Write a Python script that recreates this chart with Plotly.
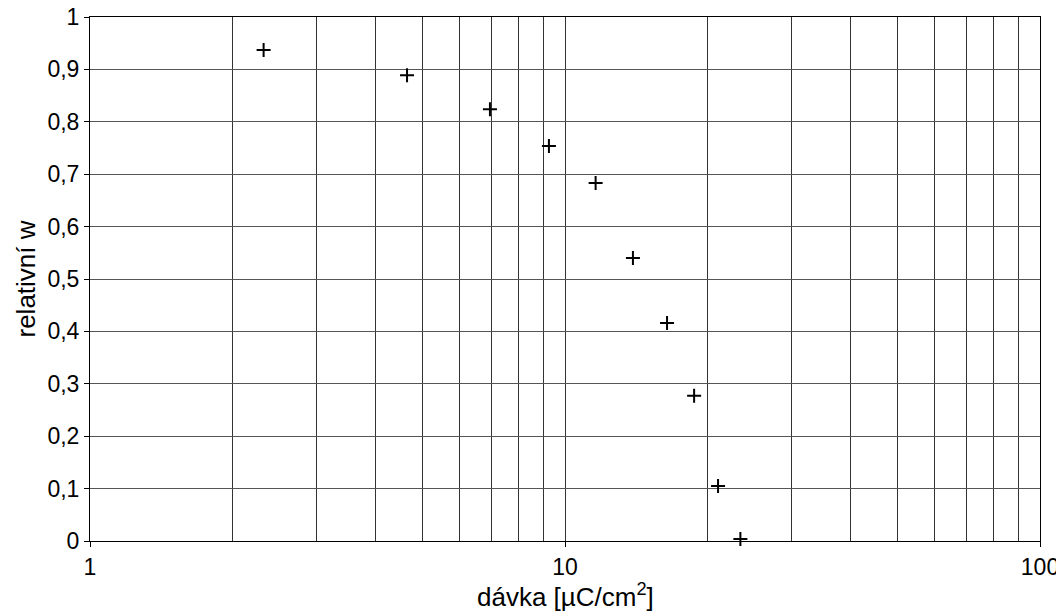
import plotly.graph_objects as go

# data
davka = [2.32, 4.65, 6.95, 9.25, 11.6, 13.9, 16.4, 18.7, 21.0, 23.4]
rel_w = [0.937, 0.889, 0.824, 0.754, 0.683, 0.540, 0.416, 0.277, 0.105, 0.004]

x_ticks = [1, 10, 100]
x_tick_labels = ["1", "10", "100"]
x_minor = [2, 3, 4, 5, 6, 7, 8, 9, 20, 30, 40, 50, 60, 70, 80, 90]
y_ticks = [0, 0.1, 0.2, 0.3, 0.4, 0.5, 0.6, 0.7, 0.8, 0.9, 1]
y_tick_labels = ["0", "0,1", "0,2", "0,3", "0,4", "0,5", "0,6", "0,7", "0,8", "0,9", "1"]
x_title = "dávka [µC/cm<sup>2</sup>]"
y_title = "relativní w"

fig = go.Figure()
fig.add_trace(go.Scatter(
    x=davka, y=rel_w, mode="markers",
    marker=dict(symbol="cross-thin", size=10, line=dict(color="black", width=2), color="black"),
    showlegend=False, cliponaxis=False,
))

tick_font = dict(family="Liberation Sans, Arial, sans-serif", size=23, color="black")
title_font = dict(family="Liberation Sans, Arial, sans-serif", size=26, color="black")

fig.update_layout(
    width=1064, height=616,
    margin=dict(l=82, r=32, t=9, b=83),
    paper_bgcolor="white", plot_bgcolor="white",
    font=tick_font,
    xaxis=dict(
        type="log", range=[0, 2], automargin=False,
        tickvals=x_ticks, ticktext=x_tick_labels,
        ticklabeloverflow="allow",
        showgrid=True, gridcolor="#333", gridwidth=1,
        minor=dict(tickvals=x_minor, showgrid=True, gridcolor="#333", gridwidth=1, ticks=""),
        ticks="outside", ticklen=5, tickcolor="black",
        showline=True, linecolor="black", linewidth=1, mirror=True,
        zeroline=False,
        tickfont=tick_font,
    ),
    yaxis=dict(
        range=[0, 1], automargin=False,
        tickvals=y_ticks, ticktext=y_tick_labels,
        ticklabeloverflow="allow",
        showgrid=True, gridcolor="#555", gridwidth=1,
        ticks="outside", ticklen=5, tickcolor="black",
        showline=True, linecolor="black", linewidth=1, mirror=True,
        zeroline=False,
        title=dict(text=y_title, font=title_font, standoff=4),
        tickfont=tick_font,
    ),
    annotations=[dict(
        text=x_title, xref="paper", yref="paper", x=0.5, y=-0.104,
        xanchor="center", yanchor="middle", showarrow=False, font=title_font,
    )],
)

fig.write_html("out.html")
